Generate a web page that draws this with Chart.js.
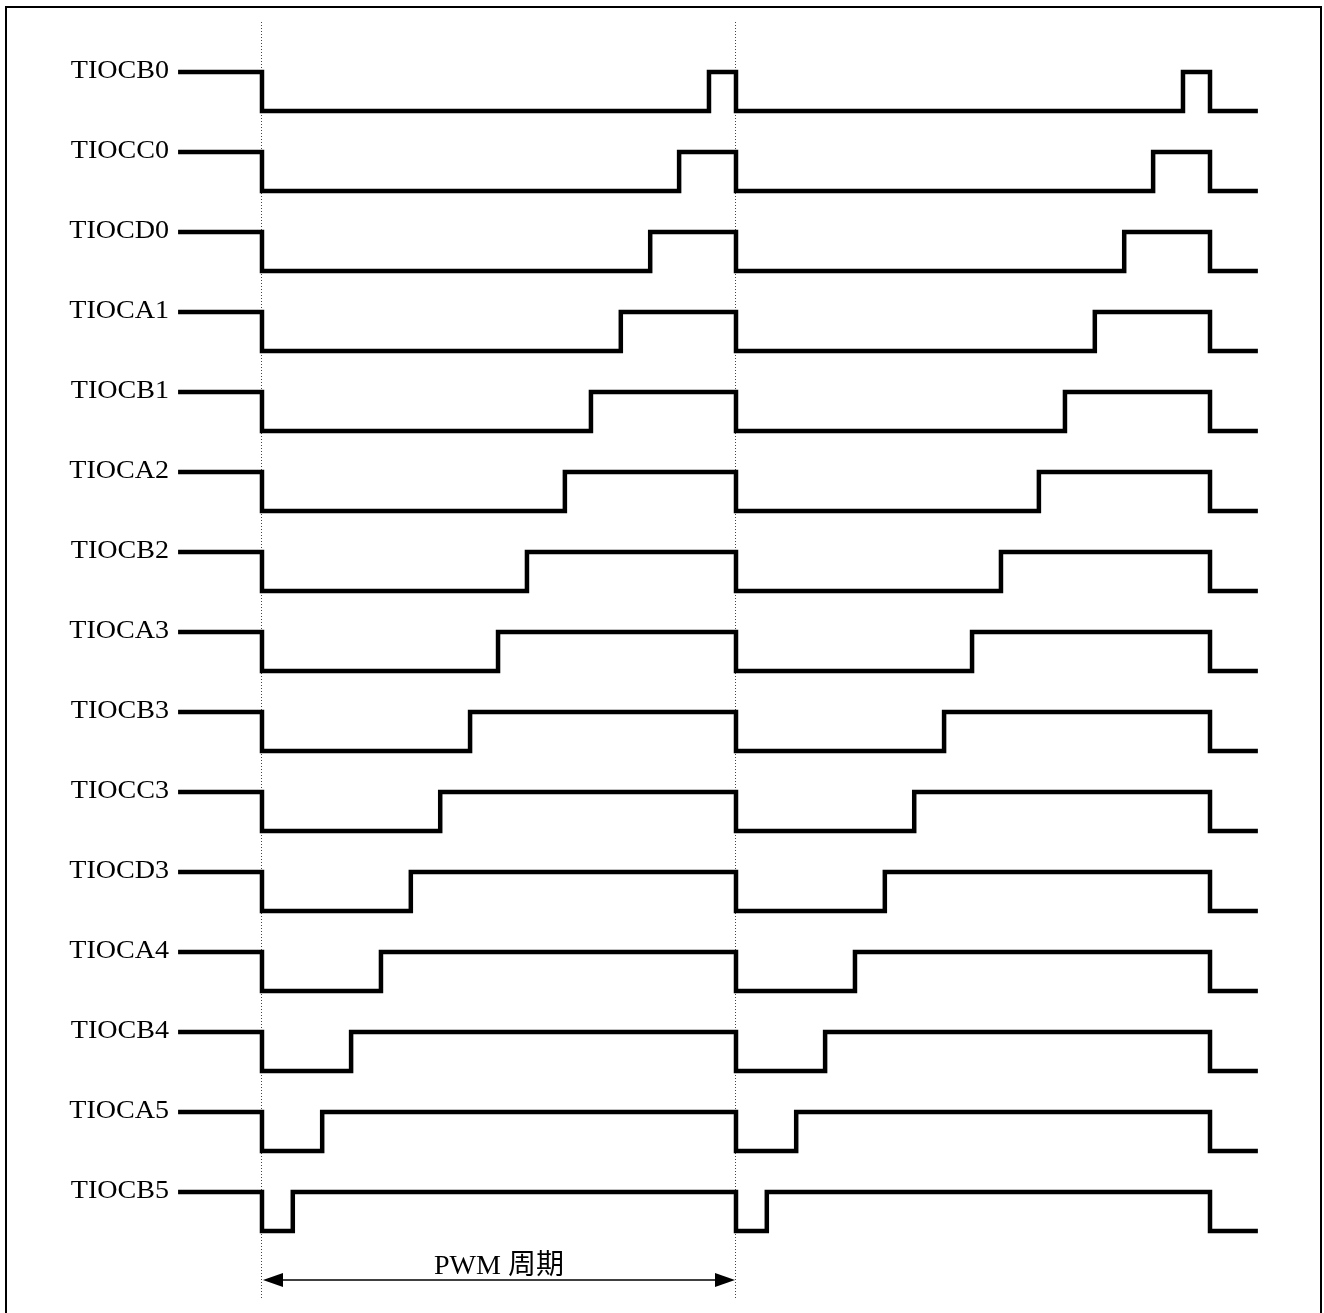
<!DOCTYPE html>
<html>
<head>
<meta charset="utf-8">
<script src="https://cdn.jsdelivr.net/npm/chart.js@4/dist/chart.umd.min.js"></script>
<style>
  html, body { margin: 0; padding: 0; background: #fff; }
  #wrap { width: 1324px; height: 1313px; }
</style>
</head>
<body>
<div id="wrap"><canvas id="myChart" width="1324" height="1313"></canvas></div>
<script>
'use strict';
// signal names, top to bottom
var signalNames = ['TIOCB0', 'TIOCC0', 'TIOCD0', 'TIOCA1', 'TIOCB1', 'TIOCA2', 'TIOCB2',
    'TIOCA3', 'TIOCB3', 'TIOCC3', 'TIOCD3', 'TIOCA4', 'TIOCB4', 'TIOCA5', 'TIOCB5'];
// rising edge inside each PWM period, in % of the period
var riseTimes = [94.3, 88.0, 81.9, 75.7, 69.4, 63.9, 55.9, 49.8, 43.9, 37.6, 31.4, 25.1, 18.8, 12.7, 6.5];
// falling edges (start of each PWM period), in %
var periodEdges = [0, 100, 200];
var traceStart = -17.7;
var traceEnd = 210.1;
var periodLabel = 'PWM 周期';

var swing = 0.4875; // low level offset, in rows

/**
 * Builds the point list of one waveform
 * @param row - row index of the signal
 * @param rise - rising edge time in the period
 */
var buildWave = function(row, rise) {
    var levels = [];
    levels.push([traceStart, 1]);
    periodEdges.forEach(function(t, i) {
        levels.push([t, 1]);
        levels.push([t, 0]);
        if (i < periodEdges.length - 1) {
            levels.push([t + rise, 0]);
            levels.push([t + rise, 1]);
        }
    });
    levels.push([traceEnd, 0]);
    return levels.map(function(p) {
        return { x: p[0], y: row + (1 - p[1]) * swing };
    });
};

var datasets = signalNames.map(function(name, i) {
    return {
        label: name,
        data: buildWave(i, riseTimes[i]),
        borderColor: '#000',
        borderWidth: 4.5,
        borderJoinStyle: 'miter',
        borderCapStyle: 'butt',
        pointRadius: 0,
        tension: 0,
        fill: false
    };
});

var decorPlugin = {
    id: 'decor',
    beforeDatasetsDraw: function(chart) {
        var ctx = chart.ctx;
        var xs = chart.scales.x;
        ctx.save();
        // dotted period markers
        ctx.strokeStyle = '#444';
        ctx.lineWidth = 1;
        ctx.setLineDash([1, 2]);
        [periodEdges[0], periodEdges[1]].forEach(function(t) {
            var px = Math.round(xs.getPixelForValue(t)) - 0.5;
            ctx.beginPath();
            ctx.moveTo(px, 22);
            ctx.lineTo(px, 1300);
            ctx.stroke();
        });
        ctx.restore();
    },
    afterDraw: function(chart) {
        var ctx = chart.ctx;
        var xs = chart.scales.x;
        var ys = chart.scales.y;
        ctx.save();
        // frame
        ctx.strokeStyle = '#000';
        ctx.lineWidth = 2;
        ctx.strokeRect(6, 7, 1315, 1320);

        // signal names
        ctx.fillStyle = '#000';
        ctx.font = '26px "Liberation Serif", "DejaVu Serif", serif';
        ctx.textAlign = 'right';
        ctx.textBaseline = 'middle';
        var xRight = xs.getPixelForValue(traceStart) - 9;
        signalNames.forEach(function(name, i) {
            var y = ys.getPixelForValue(i) - 1;
            ctx.save();
            ctx.translate(xRight, y);
            ctx.scale(1.08, 1);
            ctx.fillText(name, 0, 0);
            ctx.restore();
        });

        // period arrow
        var x0 = xs.getPixelForValue(periodEdges[0]);
        var x1 = xs.getPixelForValue(periodEdges[1]);
        var ay = 1280;
        ctx.lineWidth = 1.5;
        ctx.beginPath();
        ctx.moveTo(x0 + 10, ay);
        ctx.lineTo(x1 - 10, ay);
        ctx.stroke();
        ctx.beginPath();
        ctx.moveTo(x0 + 1, ay);
        ctx.lineTo(x0 + 21, ay - 7);
        ctx.lineTo(x0 + 21, ay + 7);
        ctx.closePath();
        ctx.fill();
        ctx.beginPath();
        ctx.moveTo(x1 - 1, ay);
        ctx.lineTo(x1 - 21, ay - 7);
        ctx.lineTo(x1 - 21, ay + 7);
        ctx.closePath();
        ctx.fill();

        ctx.font = '28px "Liberation Serif", "Noto Sans CJK JP", serif';
        ctx.textAlign = 'center';
        ctx.textBaseline = 'alphabetic';
        ctx.fillText(periodLabel, (x0 + x1) / 2, 1274);
        ctx.restore();
    }
};

var ctx = document.getElementById('myChart');
var myChart = new Chart(ctx, {
    type: 'line',
    data: { datasets: datasets },
    options: {
        responsive: false,
        animation: false,
        layout: { padding: 0 },
        plugins: {
            legend: { display: false },
            tooltip: { enabled: false }
        },
        scales: {
            x: { type: 'linear', display: false, min: -55.27, max: 224.05 },
            y: { type: 'linear', display: false, min: -0.9, max: 15.5125, reverse: true }
        }
    },
    plugins: [decorPlugin]
});
</script>
</body>
</html>
